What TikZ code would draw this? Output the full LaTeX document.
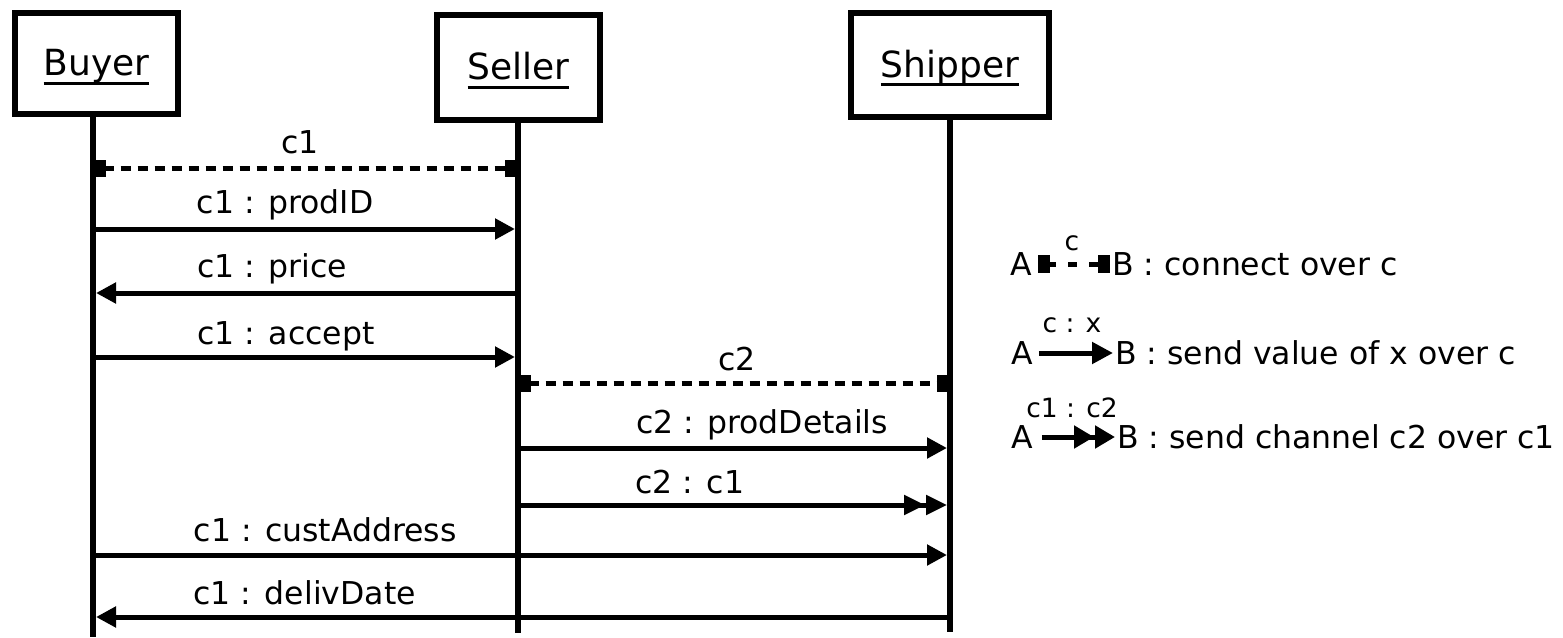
\documentclass[tikz,border=0pt]{standalone}
\usepackage{fontspec}
\setmainfont{DejaVu Sans}
\usetikzlibrary{arrows.meta}
\newcommand\ulx[1]{\setbox0\hbox{#1}\rlap{\rule[-9pt]{\wd0}{3pt}}\box0}
\begin{document}
\begin{tikzpicture}[x=1pt,y=-1pt,
  actor/.style={draw,line width=6pt,inner sep=0pt,text height=26pt,text depth=2pt,font=\fontsize{36}{40}\selectfont},
  life/.style={line width=6pt},
  msg/.style={line width=5pt,-{Triangle[length=20pt,width=20pt]},shorten >=3pt,shorten <=0pt},
  chan/.style={line width=5pt,dash pattern=on 10pt off 7pt,{Square[length=10pt,width=17pt]}-{Square[length=10pt,width=17pt]},shorten >=3pt,shorten <=3pt},
  chanmsg/.style={line width=5pt,-{Triangle[length=21pt,width=19pt,sep=1pt]Triangle[length=21pt,width=19pt]},shorten >=3pt},
  lbl/.style={font=\fontsize{31.5}{36}\selectfont,anchor=base,inner sep=0pt},
  leg/.style={font=\fontsize{31.5}{36}\selectfont,inner sep=0pt,text height=23pt,text depth=0pt},
  slbl/.style={font=\fontsize{26.5}{30}\selectfont,anchor=base,inner sep=0pt},
]
\useasboundingbox (0,0) rectangle (1563,637);

% actors
\node[actor,minimum width=163pt,minimum height=101pt] (buyer) at (96.5,63.5) {\ulx{Buyer}};
\node[actor,minimum width=163pt,minimum height=105pt] (seller) at (518.5,67.5) {\ulx{Seller}};
\node[actor,minimum width=198pt,minimum height=104pt] (shipper) at (950,65) {\ulx{Shipper}};

% lifeline ends
\coordinate (bB) at (93,637);
\coordinate (sB) at (518,633);
\coordinate (hB) at (950,632);
\draw[life] (buyer.south -| bB) -- (bB);
\draw[life] (seller.south -| sB) -- (sB);
\draw[life] (shipper.south -| hB) -- (hB);

% message end points
\coordinate (b1) at (93,168);  \coordinate (s1) at (518,168);
\coordinate (b2) at (93,229);  \coordinate (s2) at (518,229);
\coordinate (b3) at (93,293);  \coordinate (s3) at (518,293);
\coordinate (b4) at (93,357);  \coordinate (s4) at (518,357);
\coordinate (s5) at (518,383); \coordinate (h5) at (950,383);
\coordinate (s6) at (518,448); \coordinate (h6) at (950,448);
\coordinate (s7) at (518,505); \coordinate (h7) at (950,505);
\coordinate (b8) at (93,555);  \coordinate (h8) at (950,555);
\coordinate (b9) at (93,617);  \coordinate (h9) at (950,617);

\draw[chan] (b1) -- node[lbl,pos=0.487,yshift=15pt] (l1) {c1} (s1);
\draw[msg] (b2) -- node[lbl,pos=0.452,yshift=16pt] (l2) {c1 : prodID} (s2);
\draw[msg] (s3) -- node[lbl,pos=0.579,yshift=16pt] (l3) {c1 : price} (b3);
\draw[msg] (b4) -- node[lbl,pos=0.454,yshift=13pt] (l4) {c1 : accept} (s4);
\draw[chan] (s5) -- node[lbl,pos=0.507,yshift=13pt] (l5) {c2} (h5);
\draw[msg] (s6) -- node[lbl,pos=0.565,yshift=15pt] (l6) {c2 : prodDetails} (h6);
\draw[chanmsg] (s7) -- node[lbl,pos=0.398,yshift=12pt] (l7) {c2 : c1} (h7);
\draw[msg] (b8) -- node[lbl,pos=0.271,yshift=14pt] (l8) {c1 : custAddress} (h8);
\draw[msg] (h9) -- node[lbl,pos=0.753,yshift=13pt] (l9) {c1 : delivDate} (b9);

% legend
\node[leg] (A1) at (1021,264) {A};
\node[leg,anchor=west] (B1) at (1112,264) {B : connect over c};
\draw[line width=5pt,dash pattern=on 9pt off 12pt,{Square[length=12pt,width=18pt]}-{Square[length=12pt,width=18pt]},shorten <=6pt,shorten >=2pt] (A1.east) -- (B1.west);
\node[slbl] (c1l) at (1072,250) {c};

\node[leg] (A2) at (1022,353) {A};
\node[leg,anchor=west] (B2) at (1115,353) {B : send value of x over c};
\draw[line width=5pt,-{Triangle[length=21pt,width=21pt]},shorten <=6pt,shorten >=2pt] (A2.east) -- (B2.west);
\node[slbl] (c2l) at (1072,332) {c : x};

\node[leg] (A3) at (1022,437) {A};
\node[leg,anchor=west] (B3) at (1117,437) {B : send channel c2 over c1};
\draw[line width=5pt,-{Triangle[length=20pt,width=22pt,sep=1pt]Triangle[length=20pt,width=22pt]},shorten <=9pt,shorten >=2pt] (A3.east) -- (B3.west);
\node[slbl] (c3l) at (1072,417) {c1 : c2};
\end{tikzpicture}
\end{document}
